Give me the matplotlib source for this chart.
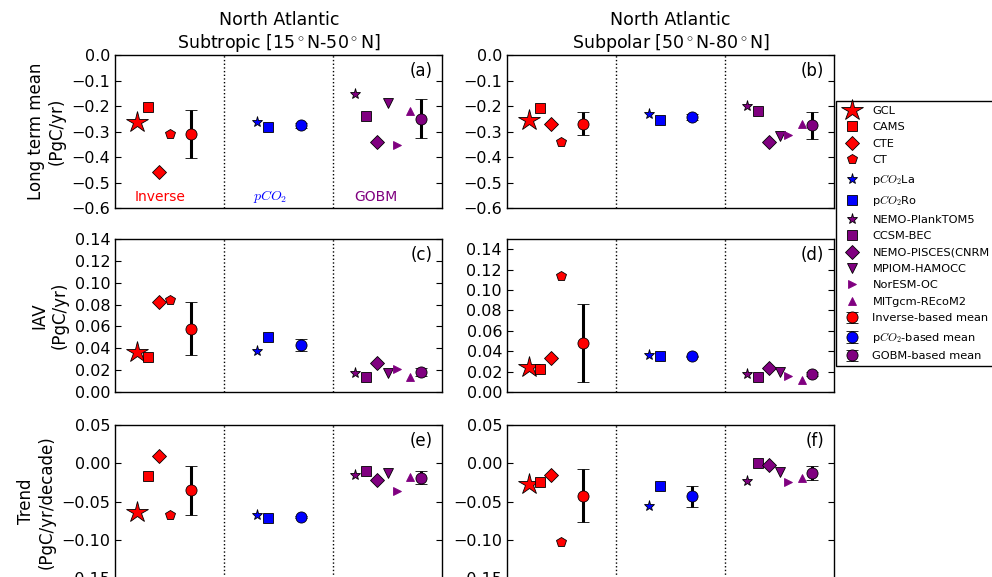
import matplotlib
matplotlib.use('Agg')
import matplotlib.pyplot as plt
import numpy as np

# panel order: (a) LTM subtropic, (b) LTM subpolar, (c) IAV subtropic,
#              (d) IAV subpolar, (e) trend subtropic, (f) trend subpolar
gcl      = [-0.264, -0.253, 0.037, 0.025, -0.063, -0.027]
cams     = [-0.204, -0.209, 0.032, 0.023, -0.016, -0.024]
cte      = [-0.457, -0.271, 0.082, 0.033, 0.010, -0.015]
ct       = [-0.308, -0.340, 0.084, 0.114, -0.068, -0.103]
inv_mean = [-0.308, -0.269, 0.058, 0.048, -0.035, -0.042]
inv_err  = [0.094, 0.046, 0.0245, 0.038, 0.032, 0.035]

pco2_la   = [-0.264, -0.230, 0.038, 0.036, -0.068, -0.056]
pco2_ro   = [-0.284, -0.253, 0.050, 0.035, -0.071, -0.029]
pco2_mean = [-0.275, -0.243, 0.0434, 0.035, -0.070, -0.043]
pco2_err  = [0.010, 0.012, 0.0055, 0.0005, 0.0015, 0.0135]

planktom  = [-0.152, -0.199, 0.0177, 0.018, -0.015, -0.023]
ccsm      = [-0.239, -0.218, 0.0135, 0.0144, -0.0096, 0.0]
pisces    = [-0.342, -0.342, 0.0266, 0.0239, -0.021, -0.002]
mpiom     = [-0.188, -0.316, 0.017, 0.0193, -0.012, -0.0105]
noresm    = [-0.352, -0.312, 0.021, 0.016, -0.036, -0.024]
mitgcm    = [-0.218, -0.269, 0.0138, 0.012, -0.0175, -0.019]
gobm_mean = [-0.249, -0.275, 0.0183, 0.0177, -0.0184, -0.0127]
gobm_err  = [0.075, 0.053, 0.004, 0.002, 0.008, 0.009]

titles = ['North Atlantic\nSubtropic [15$^\\circ$N-50$^\\circ$N]',
          'North Atlantic\nSubpolar [50$^\\circ$N-80$^\\circ$N]']
ylabels = ['Long term mean\n(PgC/yr)', 'IAV\n(PgC/yr)', 'Trend\n(PgC/yr/decade)']
panel_tags = ['(a)', '(b)', '(c)', '(d)', '(e)', '(f)']

red = 'r'
blue = 'b'
purple = '#800080'

# name, values, x position, marker, colour, markersize, edge colour
products = [
    ('GCL', gcl, 2, '*', red, 16, 'k'),
    ('CAMS', cams, 3, 's', red, 7, 'k'),
    ('CTE', cte, 4, 'D', red, 7, 'k'),
    ('CT', ct, 5, 'p', red, 7, 'k'),
    ('p$CO_2$La', pco2_la, 13, '*', blue, 8, 'k'),
    ('p$CO_2$Ro', pco2_ro, 14, 's', blue, 7, 'k'),
    ('NEMO-PlankTOM5', planktom, 22, '*', purple, 8, 'k'),
    ('CCSM-BEC', ccsm, 23, 's', purple, 7, 'k'),
    ('NEMO-PISCES(CNRM', pisces, 24, 'D', purple, 7, 'k'),
    ('MPIOM-HAMOCC', mpiom, 25, 'v', purple, 7, 'k'),
    ('NorESM-OC', noresm, 25.8, '>', purple, 6, purple),
    ('MITgcm-REcoM2', mitgcm, 27, '^', purple, 6, purple),
]
means = [
    ('Inverse-based mean', inv_mean, inv_err, 7, red),
    ('p$CO_2$-based mean', pco2_mean, pco2_err, 17, blue),
    ('GOBM-based mean', gobm_mean, gobm_err, 28, purple),
]

ylims = [(-0.6, 0.0), (-0.6, 0.0), (0.0, 0.14), (0.0, 0.15), (-0.15, 0.05), (-0.15, 0.05)]
yticks = [np.arange(-0.6, 0.01, 0.1), np.arange(-0.6, 0.01, 0.1),
          np.arange(0, 0.141, 0.02), np.arange(0, 0.141, 0.02),
          np.arange(-0.15, 0.051, 0.05), np.arange(-0.15, 0.051, 0.05)]

plt.rcParams['font.family'] = 'DejaVu Sans'
plt.rcParams['xtick.direction'] = 'in'
plt.rcParams['ytick.direction'] = 'in'
plt.rcParams['ytick.right'] = True
plt.rcParams['ytick.major.size'] = 4.5
plt.rcParams['ytick.labelsize'] = 11.5
plt.rcParams['axes.linewidth'] = 1.0
plt.rcParams['mathtext.fontset'] = 'cm'

fig = plt.figure(figsize=(9.92, 5.77), dpi=100)

lefts = [0.116, 0.511]
bottoms = [0.6395, 0.3206, -0.002]
w, h = 0.330, 0.265

for i in range(6):
    row, col = i // 2, i % 2
    ax = fig.add_axes([lefts[col], bottoms[row], w, h])
    for name, vals, x, mk, c, ms, mec in products:
        ax.plot(x, vals[i], marker=mk, linestyle='none', color=c, ms=ms,
                mec=mec, mew=0.6, label=name)
    for name, vals, err, x, c in means:
        ax.errorbar(x, vals[i], yerr=err[i], fmt='o', color=c, ms=8, mec='k',
                    mew=0.6, ecolor='k', elinewidth=2.2, capsize=4, capthick=1.5,
                    label=name)
    ax.axvline(10, color='k', linestyle=':', lw=1)
    ax.axvline(20, color='k', linestyle=':', lw=1)
    ax.set_xlim(0, 30)
    ax.set_xticks([])
    ax.set_ylim(ylims[i])
    ax.set_yticks(yticks[i])
    ax.text(0.97, 0.955, panel_tags[i], transform=ax.transAxes, ha='right',
            va='top', fontsize=12)
    if row == 0:
        ax.set_title(titles[col], fontsize=12.5, pad=5)
    if col == 0:
        ax.set_ylabel(ylabels[row], fontsize=12)
    if i == 0:
        ax.text(4.1, -0.555, 'Inverse', color=red, ha='center', va='center', fontsize=10)
        ax.text(14.2, -0.555, '$pCO_2$', color=blue, ha='center', va='center', fontsize=10)
        ax.text(23.9, -0.555, 'GOBM', color=purple, ha='center', va='center', fontsize=10)
        handles, labels = ax.get_legend_handles_labels()

fig.legend(handles, labels, loc='upper left', bbox_to_anchor=(836 / 992, 1 - 101 / 577),
           fontsize=8.2, numpoints=1, fancybox=False, edgecolor='k', framealpha=1,
           borderpad=0.4, labelspacing=0.57, handlelength=2.0, handletextpad=0.8,
           borderaxespad=0)

fig.savefig('out.png', dpi=100)
